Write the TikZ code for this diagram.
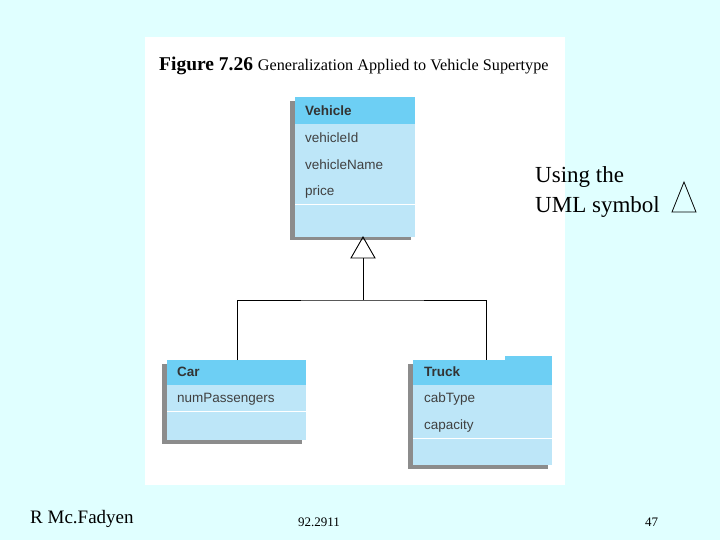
\documentclass[tikz,border=0pt]{standalone}
\usepackage{fontspec}
\setmainfont{Liberation Serif}
\newfontfamily\uml{Liberation Sans}
\definecolor{bg}{HTML}{E0FFFF}
\definecolor{hdr}{HTML}{6DCFF4}
\definecolor{body}{HTML}{BDE6F8}
\begin{document}
\begin{tikzpicture}[x=1pt,y=-1pt,
  attr/.style={anchor=west,font=\uml\fontsize{13.5}{14}\selectfont,text=black!75,inner sep=0},
  head/.style={anchor=west,font=\uml\bfseries\fontsize{13.5}{14}\selectfont,text=black!80,inner sep=0},
  shadow/.style={fill=black!45},
  gen/.style={draw=black,line width=0.9pt}]
\useasboundingbox (0,0) rectangle (720,540);
\fill[bg] (0,0) rectangle (720,540);
\fill[white] (145,37) rectangle (565,485);
\node[anchor=west,inner sep=0] (title) at (159,66) {\fontsize{19.5}{20}\selectfont\textbf{Figure 7.26}\ \fontsize{16.2}{17}\selectfont Generalization Applied to Vehicle Supertype};
% Vehicle
\fill[shadow] (290,101) rectangle (411,240);
\fill[body] (295,97) rectangle (415,237);
\fill[hdr] (295,97) rectangle (415,124);
\draw[white,line width=0.8pt] (295,204) -- (415,204);
\node[head] (v) at (305,111) {Vehicle};
\node[attr] (v1) at (305,138) {vehicleId};
\node[attr] (v2) at (305,165) {vehicleName};
\node[attr] (v3) at (305,192) {price};
\coordinate (vb) at (363,237);
% Car
\fill[shadow] (162,364) rectangle (302,444);
\fill[body] (167,360) rectangle (306,440);
\fill[hdr] (167,360) rectangle (306,385);
\draw[white,line width=0.8pt] (167,411) -- (306,411);
\node[head] (c) at (177,372) {Car};
\node[attr] (c1) at (177,399) {numPassengers};
\coordinate (ct) at (237,360);
% Truck
\fill[shadow] (408,364) rectangle (548,469);
\fill[body] (413,360) rectangle (552,465);
\fill[hdr] (413,360) rectangle (552,385);
\fill[hdr] (505,356) rectangle (552,360);
\draw[white,line width=0.8pt] (413,438) -- (552,438);
\node[head] (t) at (424,372) {Truck};
\node[attr] (t1) at (424,399) {cabType};
\node[attr] (t2) at (424,426) {capacity};
\coordinate (tt) at (486,360);
% generalization
\coordinate (tb) at (363,258);
\coordinate (j) at (363,300);
\draw[gen] (vb) -- (351,258) -- (375,258) -- cycle;
\draw[gen] (tb) -- (j);
\draw[gen] (ct) |- (j) -| (tt);
% side text
\node[anchor=west,inner sep=0,align=left,font=\fontsize{23}{30}\selectfont] (u) at (535,192) {Using the\\UML symbol};
\draw[line width=0.8pt] (684,182) -- (672,212) -- (696,212) -- cycle;
% footer
\node[anchor=west,inner sep=0,font=\fontsize{19}{20}\selectfont] (f1) at (30,519) {R Mc.Fadyen};
\node[anchor=west,inner sep=0,font=\fontsize{13}{14}\selectfont] (f2) at (298,522) {92.2911};
\node[anchor=west,inner sep=0,font=\fontsize{13}{14}\selectfont] (f3) at (645,522) {47};
\end{tikzpicture}
\end{document}
